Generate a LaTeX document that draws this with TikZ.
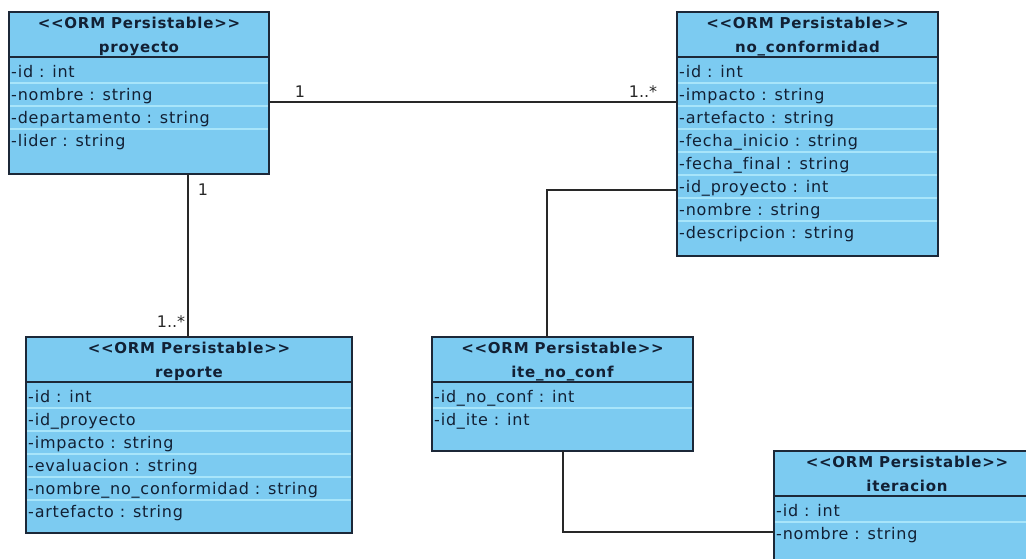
\documentclass[tikz,border=0pt]{standalone}
\usepackage{fontspec}
\setmainfont{DejaVu Sans}
\newfontfamily\umlfont{DejaVu Sans}[LetterSpace=5, Ligatures={NoCommon}]
\usetikzlibrary{calc}

\definecolor{classfill}{RGB}{124,203,241}
\definecolor{rowrule}{RGB}{168,229,250}
\definecolor{classedge}{RGB}{28,40,56}
\definecolor{ink}{RGB}{18,32,52}
\definecolor{wire}{RGB}{40,40,40}

\tikzset{
  classbox/.style={draw=classedge, line width=1.6pt, fill=classfill, inner sep=0pt, outer sep=0pt, anchor=north west},
  headrule/.style={draw=classedge, line width=1.4pt},
  rowsep/.style={draw=rowrule, line width=1.4pt},
  stereo/.style={font=\umlfont\bfseries\fontsize{15}{18}\selectfont, text=ink, inner sep=0pt, anchor=base},
  attr/.style={font=\umlfont\fontsize{16}{19}\selectfont, text=ink, inner sep=0pt, anchor=base west},
  assoc/.style={draw=wire, line width=1.4pt},
  mult/.style={font=\fontsize{16}{19}\selectfont, text=wire, inner sep=0pt},
}

% #1 name, #2 left, #3 top, #4 right, #5 bottom, #6 class name, #7 attributes
\newcommand\umlclass[7]{%
  \pgfmathsetmacro\boxw{#4-#2}%
  \pgfmathsetmacro\boxh{#5-#3}%
  \node[classbox, minimum width=\boxw pt, minimum height=\boxh pt] (#1) at (#2,#3) {};
  \draw[headrule] (#2,#3+45) -- (#4,#3+45);
  \node[stereo] (#1-st) at ({(#2+#4)/2},#3+16) {\textless\textless ORM Persistable\textgreater\textgreater};
  \node[stereo] (#1-nm) at ({(#2+#4)/2},#3+40) {#6};
  \foreach \attr [count=\k] in {#7} {
    \ifnum\k>1 \draw[rowsep] (#2+1,#3+25+23*\k) -- (#4-1,#3+25+23*\k); \fi
    \node[attr] (#1-\k) at (#2+2,#3+42+23*\k) {\attr};
  }
}

\begin{document}
\begin{tikzpicture}[x=1pt,y=-1pt]
\clip (0,0) rectangle (1026,558);
\fill[white] (0,0) rectangle (1026,558);

\umlclass{proyecto}{9}{12}{269}{174}{proyecto}
  {-id : int,-nombre : string,-departamento : string,-lider : string}
\umlclass{noconf}{677}{12}{938}{256}{no\_conformidad}
  {-id : int,-impacto : string,-artefacto : string,-fecha\_inicio : string,-fecha\_final : string,-id\_proyecto : int,-nombre : string,-descripcion : string}
\umlclass{reporte}{26}{337}{352}{533}{reporte}
  {-id : int,-id\_proyecto,-impacto : string,-evaluacion : string,-nombre\_no\_conformidad : string,-artefacto : string}
\umlclass{itenoconf}{432}{337}{693}{451}{ite\_no\_conf}
  {-id\_no\_conf : int,-id\_ite : int}
\umlclass{iteracion}{774}{451}{1040}{575}{iteracion}
  {-id : int,-nombre : string}

% associations
\draw[assoc] ($(proyecto.north east)+(0,90)$) -- ($(noconf.north west)+(0,90)$);
\draw[assoc] ($(proyecto.south west)+(179,0)$) -- ($(reporte.north west)+(162,0)$);
\draw[assoc] ($(noconf.north west)+(0,178)$) -| ($(itenoconf.north west)+(115,0)$);
\draw[assoc] ($(itenoconf.south west)+(131,0)$) |- ($(iteracion.north west)+(0,81)$);

% multiplicities
\node[mult] (m-pr-nc) at (300,92) {1};
\node[mult] (m-nc-pr) at (643,92) {1..*};
\node[mult] (m-pr-re) at (203,190) {1};
\node[mult] (m-re-pr) at (171,322) {1..*};
\end{tikzpicture}
\end{document}
